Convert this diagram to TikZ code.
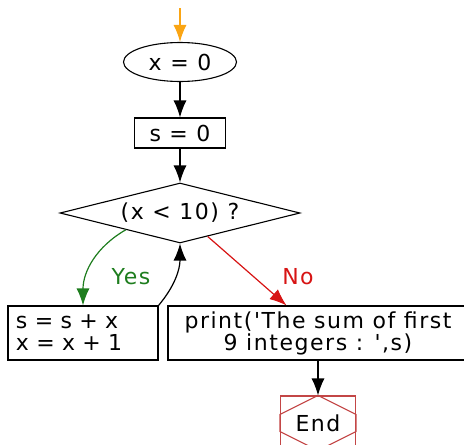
\documentclass[tikz,border=0pt]{standalone}
\usepackage{fontspec}
\setsansfont{DejaVu Sans}[LetterSpace=7, Ligatures=TeXOff]
\usepackage{xcolor}
\usepackage{tikz}
\usetikzlibrary{shapes.geometric, arrows.meta, calc}
\definecolor{flowgreen}{RGB}{30,125,30}
\definecolor{flowred}{RGB}{215,20,20}
\definecolor{endred}{RGB}{195,70,70}
\definecolor{flowflame}{RGB}{250,165,20}
\tikzset{
  flowtext/.style={font=\sffamily\fontsize{22}{22}\selectfont},
  startoval/.style={
    ellipse, draw, line width=1.1pt, flowtext, inner sep=0pt,
    minimum width=113pt, minimum height=39pt
  },
  stepbox/.style={
    draw, line width=1.1pt, flowtext, align=center, inner sep=2pt,
    minimum height=30pt
  },
  testdiamond/.style={
    diamond, draw, line width=1.1pt, flowtext, aspect=4, inner sep=0pt,
    minimum width=240pt, minimum height=60pt
  },
  endbox/.style={
    draw=endred, line width=1.1pt, flowtext, inner sep=0pt,
    minimum width=75pt, minimum height=54pt
  },
  flowarrow/.style={-{Latex[length=17pt,width=13pt]}, line width=1.2pt},
}

\begin{document}
\begin{tikzpicture}[x=1pt, y=1pt]
  \useasboundingbox (0,0) rectangle (464,-445);

  % Start
  \coordinate (entry) at (180,-8);
  \node[startoval] (xinit) at (180,-62) {x = 0};
  \node[stepbox, minimum width=91pt] (sinit) at (180,-133) {s = 0};

  % Test
  \node[testdiamond] (test) at (180,-213) {(x < 10) ?};

  % Branches
  \node[stepbox, align=left, text width=134pt, inner xsep=8pt,
    minimum height=54pt] (body) at (83,-333) {s = s + x\\x = x + 1};
  \node[stepbox, minimum width=300pt, minimum height=54pt]
    (report) at (318,-333) {print('The sum of first\\9 integers : ',s)};

  % End
  \node[endbox] (finish) at (318,-423) {End};
  \draw[endred, line width=1.1pt] (finish.north)
    -- ($(finish.north west)+(0,-19pt)$) -- ($(finish.south west)+(0,19pt)$)
    -- (finish.south)
    -- ($(finish.south east)+(0,19pt)$) -- ($(finish.north east)+(0,-19pt)$)
    -- cycle;

  % Arrows
  \draw[flowarrow, flowflame] (entry) -- (xinit.north);
  \draw[flowarrow] (xinit) -- (sinit);
  \draw[flowarrow] (sinit) -- (test.north);
  \draw[flowarrow, flowgreen] ($(test.south)!0.45!(test.west)$)
    to[out=210, in=90] (body.north);
  \draw[flowarrow] (body.north east) to[out=50, in=-90] (test.south);
  \draw[flowarrow, flowred] ($(test.south)!0.23!(test.east)$) -- (report);
  \draw[flowarrow] (report.south) -- (finish.north);

  % Labels
  \node[flowtext, text=flowgreen] (yes) at (131,-277) {Yes};
  \node[flowtext, text=flowred] (no) at (298,-277) {No};
\end{tikzpicture}
\end{document}
